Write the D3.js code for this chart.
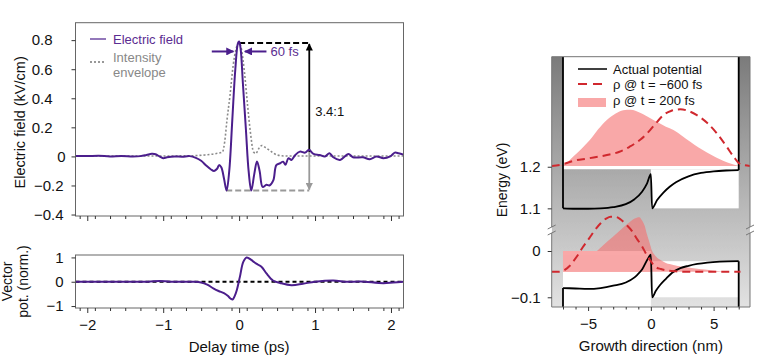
<!DOCTYPE html>
<html>
<head>
<meta charset="utf-8">
<script src="https://cdn.jsdelivr.net/npm/d3@7"></script>
<style>
html,body{margin:0;padding:0;background:#fff;}
svg{display:block;font-family:"Liberation Sans",Arial,sans-serif;}
</style>
</head>
<body>
<svg id="c" width="768" height="359"></svg>
<script>
// ---------------- DATA ----------------
// Electric field (kV/cm) vs delay time (ps)
const efTime = [-2.155,-2.0,-1.85,-1.7,-1.55,-1.4,-1.3,-1.22,-1.15,-1.1,-1.05,-1.0,-0.95,-0.85,-0.75,-0.65,-0.57,-0.5,-0.43,-0.37,-0.33,-0.29,-0.265,-0.235,-0.2,-0.165,-0.13,-0.09,-0.05,-0.015,0.0,0.02,0.05,0.09,0.125,0.16,0.2,0.235,0.27,0.31,0.36,0.40,0.45,0.49,0.54,0.58,0.61,0.65,0.69,0.74,0.80,0.87,0.92,0.98,1.06,1.13,1.19,1.24,1.33,1.44,1.50,1.63,1.72,1.81,1.90,1.99,2.05,2.10,2.165];
const efValue = [0.003,0.002,0.004,0.0,0.003,0.0,0.002,0.01,0.018,0.015,0.0,-0.012,-0.006,0.0,-0.002,0.002,-0.01,-0.03,-0.065,-0.09,-0.1,-0.085,-0.06,-0.075,-0.15,-0.235,-0.1,0.25,0.6,0.78,0.79,0.74,0.5,0.18,-0.1,-0.235,-0.12,-0.035,-0.1,-0.21,-0.195,-0.2,-0.165,-0.06,-0.047,-0.036,-0.058,-0.012,-0.024,0.01,0.033,0.026,0.045,0.017,0.010,0.0,0.022,-0.006,-0.024,0.017,-0.006,-0.006,-0.019,0.0,-0.012,0.0,0.026,0.022,0.012];
// Intensity envelope
const envTime = [-2.155,-1.5,-1.0,-0.6,-0.45,-0.3,-0.22,-0.19,-0.16,-0.12,-0.08,-0.04,0.0,0.03,0.07,0.11,0.15,0.19,0.22,0.26,0.30,0.35,0.42,0.5,0.6,1.0,1.5,2.165];
const envValue = [0.003,0.003,0.003,0.005,0.01,0.02,0.03,0.1,0.25,0.42,0.62,0.74,0.78,0.74,0.58,0.36,0.16,0.03,0.02,0.055,0.075,0.06,0.035,0.01,0.003,0.003,0.003,0.003];
// Vector potential (norm.)
const vpTime = [-2.155,-1.5,-1.2,-1.05,-0.9,-0.6,-0.5,-0.42,-0.34,-0.27,-0.2,-0.15,-0.11,-0.085,-0.06,-0.03,0.01,0.055,0.1,0.16,0.2,0.25,0.3,0.36,0.45,0.54,0.69,0.84,1.0,1.24,1.42,1.6,1.9,2.03,2.165];
const vpValue = [0,0,0,0.03,0,0,-0.03,-0.12,-0.27,-0.38,-0.47,-0.58,-0.7,-0.73,-0.6,-0.34,0.2,0.82,1.0,0.9,0.8,0.7,0.6,0.34,0.04,-0.05,-0.14,-0.08,0,0.05,0,0.01,-0.06,-0.03,0];
// Ticks, left
const timeTicks = [-2,-1,0,1,2];
const timeTickLabels = ["−2","−1","0","1","2"];
const efTicks = [-0.4,-0.2,0,0.2,0.4,0.6,0.8];
const efTickLabels = ["−0.4","−0.2","0","0.2","0.4","0.6","0.8"];
const vpTicks = [-1,0,1];
const vpTickLabels = ["−1","0","1"];
// Annotation values
const peakLevel = 0.78, troughLevel = -0.235, ratioTime = 0.924, ratioSplit = 0.03;
const fwhmLeft = [-0.36,-0.075], fwhmRight = [0.36,0.075], fwhmLevel = 0.722;

// Right panel: potential (eV) vs growth direction (nm)
const potUpX = [-7,-6,-5,-4,-3,-2,-1.3,-0.7,-0.3,0,0.1,0.5,1,1.5,2,3,4,5,6,7];
const potUpE = [1.1,1.099,1.099,1.1,1.103,1.11,1.122,1.14,1.16,1.182,1.1,1.12,1.138,1.152,1.163,1.177,1.185,1.189,1.191,1.192];
const potLoX = [-7,-6,-5,-4,-3,-2,-1.3,-1.1,-0.7,-0.2,0,0.1,0.4,0.75,1.2,1.7,2.35,3,3.7,4.5,5.5,7];
const potLoE = [-0.08,-0.081,-0.082,-0.08,-0.075,-0.068,-0.057,-0.052,-0.04,-0.015,-0.008,-0.1,-0.086,-0.073,-0.06,-0.047,-0.037,-0.032,-0.028,-0.025,-0.023,-0.022];
const wellEdges = [-7,0,7];
// rho @ t = -600 fs (dashed)
const rhoAUpX = [-7.9,-7.0,-6.2,-5.0,-3.5,-2.5,-1.7,-0.8,-0.06,0.5,1.0,1.6,2.34,3.0,3.67,4.5,5.27,6.0,6.6,7.14,7.9];
const rhoAUpE = [1.202,1.206,1.214,1.22,1.228,1.236,1.248,1.266,1.288,1.308,1.324,1.334,1.338,1.334,1.324,1.305,1.28,1.25,1.224,1.206,1.202];
const rhoALoX = [-7.9,-7.3,-6.86,-6.5,-6.2,-5.8,-5.4,-4.9,-4.46,-4.0,-3.53,-3.2,-2.86,-2.4,-1.93,-1.5,-1.13,-0.7,-0.33,0,0.34,0.8,1.27,2,3.1,5,7.14];
const rhoALoE = [-0.045,-0.045,-0.041,-0.033,-0.023,-0.008,0.0093,0.028,0.045,0.06,0.0706,0.074,0.074,0.068,0.056,0.043,0.027,0.01,-0.0086,-0.022,-0.034,-0.039,-0.042,-0.044,-0.045,-0.045,-0.045];
// rho @ t = 200 fs (filled)
const rhoBUpX = [-7.3,-6.6,-6.2,-5.5,-4.86,-4.2,-3.53,-2.8,-2.2,-1.6,-0.86,0,0.47,1.2,1.8,2.5,3.14,3.8,4.47,5.2,5.8,6.4,6.9,7.2];
const rhoBUpE = [1.202,1.212,1.224,1.244,1.264,1.29,1.312,1.328,1.336,1.337,1.33,1.316,1.308,1.296,1.288,1.274,1.26,1.246,1.234,1.222,1.214,1.207,1.203,1.202];
const rhoBLoX = [-7.0,-6.86,-6.2,-5.4,-4.7,-4.06,-3.4,-2.73,-2.2,-1.66,-1.3,-1.13,-0.9,-0.73,-0.5,-0.33,-0.1,0.07,0.35,0.74,1.2,1.8,2.5,3.4,4.3,5.27,6.0,6.8];
const rhoBLoE = [-0.045,-0.042,-0.034,-0.023,-0.01,0.0058,0.022,0.038,0.051,0.063,0.07,0.072,0.073,0.067,0.055,0.038,0.018,0.002,-0.01,-0.019,-0.026,-0.030,-0.034,-0.037,-0.040,-0.043,-0.0445,-0.045];
const rhoUpBase = 1.202, rhoLoBase = -0.045;
const nmTicks = [-5,0,5];
const nmTickLabels = ["−5","0","5"];
const nmMinor = [-7,-6,-4,-3,-2,-1,1,2,3,4,6,7];
const eUpTicks = [1.1,1.2];
const eUpTickLabels = ["1.1","1.2"];
const eLoTicks = [-0.1,0];
const eLoTickLabels = ["−0.1","0"];

// ---------------- LAYOUT ----------------
const svg = d3.select("#c");
const FONT = "\"Liberation Sans\",Arial,sans-serif";
const purple = "#4b1e8c", purpleText = "#5b2d91";
const zip = (a,b) => a.map((v,i)=>[v,b[i]]);

const LX = [75.5, 403.5];
const TOP = [216, 22.7];   // top panel y range
const BOT = [308, 255];    // bottom panel y range
const xT = d3.scaleLinear().domain([-2.155, 2.165]).range(LX);
const yE = d3.scaleLinear().domain([-0.41, 0.92]).range(TOP);
const yA = d3.scaleLinear().domain([-1.08, 1.1]).range(BOT);

const RX = [551.7, 750];
const RY = {top:56.7, brk:230, bot:307};
const xN = d3.scaleLinear().domain([-7.9, 7.9]).range(RX);
const yU = d3.scaleLinear().domain([1.048, 1.4644]).range([RY.brk, RY.top]);
const yL = d3.scaleLinear().domain([-0.121, 0.0454]).range([RY.bot, RY.brk]);

const defs = svg.append("defs");
function marker(id,color){
  defs.append("marker").attr("id",id).attr("viewBox","0 0 10 10").attr("refX",9).attr("refY",5)
    .attr("markerWidth",4).attr("markerHeight",4).attr("orient","auto-start-reverse")
    .append("path").attr("d","M0,0 L10,5 L0,10 z").attr("fill",color);
}
marker("mBlack","#000"); marker("mGray","#999"); marker("mPurple",purple);

// ---------- LEFT: top panel ----------
const gT = svg.append("g");
defs.append("clipPath").attr("id","clipT").append("rect")
  .attr("x",LX[0]).attr("y",TOP[1]).attr("width",LX[1]-LX[0]).attr("height",TOP[0]-TOP[1]);

gT.append("line").attr("x1",xT(0)).attr("x2",xT(ratioTime)).attr("y1",yE(peakLevel)).attr("y2",yE(peakLevel))
  .attr("stroke","#000").attr("stroke-width",2).attr("stroke-dasharray","6,3");
gT.append("line").attr("x1",xT(-0.17)).attr("x2",xT(ratioTime)).attr("y1",yE(troughLevel)).attr("y2",yE(troughLevel))
  .attr("stroke","#999").attr("stroke-width",2).attr("stroke-dasharray","6,3");
gT.append("line").attr("x1",xT(ratioTime)).attr("x2",xT(ratioTime)).attr("y1",yE(ratioSplit)).attr("y2",yE(peakLevel)+1)
  .attr("stroke","#000").attr("stroke-width",1.8).attr("marker-end","url(#mBlack)");
gT.append("line").attr("x1",xT(ratioTime)).attr("x2",xT(ratioTime)).attr("y1",yE(ratioSplit)).attr("y2",yE(troughLevel)-1)
  .attr("stroke","#999").attr("stroke-width",1.8).attr("marker-end","url(#mGray)");
gT.append("text").attr("x",xT(ratioTime)+6).attr("y",yE(0.31)).attr("dy","0.35em")
  .attr("font-size",13).attr("fill","#111").text("3.4:1");

const lineEnv = d3.line().x(d=>xT(d[0])).y(d=>yE(d[1])).curve(d3.curveMonotoneX);
gT.append("path").attr("clip-path","url(#clipT)").attr("d",lineEnv(zip(envTime,envValue)))
  .attr("fill","none").attr("stroke","#8a8a8a").attr("stroke-width",1.6).attr("stroke-dasharray","2,2");
const lineEF = d3.line().x(d=>xT(d[0])).y(d=>yE(d[1])).curve(d3.curveCatmullRom.alpha(0.5));
gT.append("path").attr("clip-path","url(#clipT)").attr("d",lineEF(zip(efTime,efValue)))
  .attr("fill","none").attr("stroke",purple).attr("stroke-width",2).attr("stroke-linejoin","round");

gT.append("line").attr("x1",xT(fwhmLeft[0])).attr("x2",xT(fwhmLeft[1])).attr("y1",yE(fwhmLevel)).attr("y2",yE(fwhmLevel))
  .attr("stroke",purple).attr("stroke-width",2).attr("marker-end","url(#mPurple)");
gT.append("line").attr("x1",xT(fwhmRight[0])).attr("x2",xT(fwhmRight[1])).attr("y1",yE(fwhmLevel)).attr("y2",yE(fwhmLevel))
  .attr("stroke",purple).attr("stroke-width",2).attr("marker-end","url(#mPurple)");
gT.append("text").attr("x",xT(fwhmRight[0])+4).attr("y",yE(fwhmLevel)).attr("dy","0.35em")
  .attr("font-size",13).attr("fill",purpleText).text("60 fs");

// legend
gT.append("line").attr("x1",90).attr("x2",106).attr("y1",39).attr("y2",39).attr("stroke",purple).attr("stroke-width",1.2);
gT.append("text").attr("x",113).attr("y",39).attr("dy","0.35em").attr("font-size",13).attr("fill",purpleText).text("Electric field");
gT.append("line").attr("x1",90).attr("x2",106).attr("y1",62).attr("y2",62).attr("stroke","#777").attr("stroke-width",1.5).attr("stroke-dasharray","2,2");
gT.append("text").attr("x",113).attr("y",57).attr("dy","0.35em").attr("font-size",13).attr("fill","#888").text("Intensity");
gT.append("text").attr("x",113).attr("y",72).attr("dy","0.35em").attr("font-size",13).attr("fill","#888").text("envelope");

gT.append("rect").attr("x",LX[0]).attr("y",TOP[1]).attr("width",LX[1]-LX[0]).attr("height",TOP[0]-TOP[1])
  .attr("fill","none").attr("stroke","#666").attr("stroke-width",1);

function styleAxis(g){
  g.select(".domain").remove();
  g.selectAll(".tick line").attr("stroke","#333");
  g.selectAll(".tick text").attr("font-family",FONT).attr("fill","#111");
}
const minorTimes = d3.range(-21,22,2).map(v=>v/10).filter(v=>v>=-2.15 && v<=2.16 && Math.abs(v-Math.round(v))>1e-6);
function timeAxis(y, labels){
  const gMaj = svg.append("g").attr("transform",`translate(0,${y})`)
    .call(d3.axisBottom(xT).tickValues(timeTicks).tickSize(5).tickPadding(6)
      .tickFormat((d,i)=>labels?timeTickLabels[i]:""));
  styleAxis(gMaj);
  gMaj.selectAll(".tick text").attr("font-size",15);
  const gMin = svg.append("g").attr("transform",`translate(0,${y})`)
    .call(d3.axisBottom(xT).tickValues(minorTimes).tickSize(3).tickFormat(""));
  styleAxis(gMin);
}
timeAxis(TOP[0], false);
const gyE = svg.append("g").attr("transform",`translate(${LX[0]},0)`)
  .call(d3.axisLeft(yE).tickValues(efTicks).tickSize(4).tickPadding(6).tickFormat((d,i)=>efTickLabels[i]));
styleAxis(gyE); gyE.selectAll(".tick text").attr("font-size",15)
  .attr("dx", d => d > 0 ? -13 : (d < 0 ? -2 : 0));
svg.append("text").attr("transform",`translate(20,${(TOP[0]+TOP[1])/2+3}) rotate(-90)`).attr("text-anchor","middle")
  .attr("dy","0.35em").attr("font-size",14.5).attr("fill","#111").text("Electric field (kV/cm)");

// ---------- LEFT: bottom panel ----------
const gB = svg.append("g");
gB.append("line").attr("x1",LX[0]).attr("x2",LX[1]).attr("y1",yA(0)).attr("y2",yA(0))
  .attr("stroke","#000").attr("stroke-width",1.8).attr("stroke-dasharray","4,3");
const lineVP = d3.line().x(d=>xT(d[0])).y(d=>yA(d[1])).curve(d3.curveCatmullRom.alpha(0.5));
gB.append("path").attr("d",lineVP(zip(vpTime,vpValue))).attr("fill","none").attr("stroke",purple).attr("stroke-width",2);
gB.append("rect").attr("x",LX[0]).attr("y",BOT[1]).attr("width",LX[1]-LX[0]).attr("height",BOT[0]-BOT[1])
  .attr("fill","none").attr("stroke","#666").attr("stroke-width",1);
timeAxis(BOT[0], true);
const gyA = svg.append("g").attr("transform",`translate(${LX[0]},0)`)
  .call(d3.axisLeft(yA).tickValues(vpTicks).tickSize(4).tickPadding(8).tickFormat((d,i)=>vpTickLabels[i]));
styleAxis(gyA); gyA.selectAll(".tick text").attr("font-size",15);
const ylb = svg.append("text").attr("transform",`translate(13,${(BOT[0]+BOT[1])/2}) rotate(-90)`)
  .attr("text-anchor","middle").attr("font-size",14).attr("fill","#111");
ylb.append("tspan").attr("x",0).attr("dy","-0.1em").text("Vector");
ylb.append("tspan").attr("x",0).attr("dy","1.15em").text("pot. (norm.)");
svg.append("text").attr("x",xT(0)).attr("y",352).attr("text-anchor","middle").attr("font-size",15)
  .attr("fill","#111").text("Delay time (ps)");

// ---------- RIGHT panel ----------
const gR = svg.append("g");
const grad = defs.append("linearGradient").attr("id","bgGrad").attr("x1",0).attr("x2",0).attr("y1",0).attr("y2",1);
grad.append("stop").attr("offset","0%").attr("stop-color","#7b7b7b");
grad.append("stop").attr("offset","100%").attr("stop-color","#e2e2e2");
defs.append("clipPath").attr("id","clipR").append("rect")
  .attr("x",RX[0]).attr("y",RY.top).attr("width",RX[1]-RX[0]).attr("height",RY.bot-RY.top);
const gRc = gR.append("g").attr("clip-path","url(#clipR)");
gRc.append("rect").attr("x",RX[0]).attr("y",RY.top).attr("width",RX[1]-RX[0]).attr("height",RY.bot-RY.top).attr("fill","url(#bgGrad)");

const [wl, wm, wr] = wellEdges;
const eTop = yU.domain()[1], eBot = yL.domain()[0];
function rectE(x0,x1,ys,e0,e1,fill){
  return gRc.append("rect").attr("x",xN(x0)).attr("width",xN(x1)-xN(x0))
    .attr("y",ys(e1)).attr("height",ys(e0)-ys(e1)).attr("fill",fill);
}
rectE(wl, wr, yU, 1.194, eTop, "#fff");
rectE(wm, wr, yU, 1.1, 1.194, "#fff");
rectE(wl, wm, yL, eBot, 0, "#fff");
rectE(wm, wr, yL, -0.1, -0.022, "#fff");

const pink = gRc.append("g").attr("opacity",0.6);
const areaU = d3.area().x(d=>xN(d[0])).y0(yU(rhoUpBase)).y1(d=>yU(d[1])).curve(d3.curveMonotoneX);
const areaL = d3.area().x(d=>xN(d[0])).y0(yL(rhoLoBase)).y1(d=>yL(d[1])).curve(d3.curveMonotoneX);
pink.append("path").attr("d",areaU(zip(rhoBUpX,rhoBUpE))).attr("fill","#f56e6e");
pink.append("path").attr("d",areaL(zip(rhoBLoX,rhoBLoE))).attr("fill","#f56e6e");
pink.append("rect").attr("x",xN(wl)).attr("width",xN(wm)-xN(wl)).attr("y",yL(0)).attr("height",yL(rhoLoBase)-yL(0)).attr("fill","#f56e6e");

const potU = d3.line().x(d=>xN(d[0])).y(d=>yU(d[1])).curve(d3.curveMonotoneX);
const potL = d3.line().x(d=>xN(d[0])).y(d=>yL(d[1])).curve(d3.curveMonotoneX);
const straightU = d3.line().x(d=>xN(d[0])).y(d=>yU(d[1]));
const straightL = d3.line().x(d=>xN(d[0])).y(d=>yL(d[1]));
const blk = p => gRc.append("path").attr("d",p).attr("fill","none").attr("stroke","#000").attr("stroke-width",1.8);
blk(potU(zip(potUpX,potUpE)));
blk(straightU([[wl,eTop],[wl,potUpE[0]]]));
blk(straightU([[wr,eTop],[wr,potUpE[potUpE.length-1]]]));
blk(potL(zip(potLoX,potLoE)));
blk(straightL([[wl,eBot],[wl,potLoE[0]]]));
blk(straightL([[wr,eBot],[wr,potLoE[potLoE.length-1]]]));

const dashU = d3.line().x(d=>xN(d[0])).y(d=>yU(d[1])).curve(d3.curveMonotoneX);
const dashL = d3.line().x(d=>xN(d[0])).y(d=>yL(d[1])).curve(d3.curveMonotoneX);
gRc.append("path").attr("d",dashU(zip(rhoAUpX,rhoAUpE))).attr("fill","none").attr("stroke","#d0282e").attr("stroke-width",2).attr("stroke-dasharray","8,5");
gRc.append("path").attr("d",dashL(zip(rhoALoX,rhoALoE))).attr("fill","none").attr("stroke","#d0282e").attr("stroke-width",2).attr("stroke-dasharray","8,5");

const fr = gR.append("g").attr("stroke","#777").attr("stroke-width",1).attr("fill","none");
fr.append("line").attr("x1",RX[0]).attr("x2",RX[1]).attr("y1",RY.top).attr("y2",RY.top);
fr.append("line").attr("x1",RX[0]).attr("x2",RX[1]).attr("y1",RY.bot).attr("y2",RY.bot);
[RX[0],RX[1]].forEach(x=>{
  fr.append("line").attr("x1",x).attr("x2",x).attr("y1",RY.top).attr("y2",RY.brk-3);
  fr.append("line").attr("x1",x).attr("x2",x).attr("y1",RY.brk+3).attr("y2",RY.bot);
  fr.append("line").attr("x1",x-4).attr("x2",x+4).attr("y1",RY.brk-1).attr("y2",RY.brk-5);
  fr.append("line").attr("x1",x-4).attr("x2",x+4).attr("y1",RY.brk+5).attr("y2",RY.brk+1);
});

const gxN = svg.append("g").attr("transform",`translate(0,${RY.bot})`)
  .call(d3.axisBottom(xN).tickValues(nmTicks).tickSize(4).tickPadding(7).tickFormat((d,i)=>nmTickLabels[i]));
styleAxis(gxN); gxN.selectAll(".tick text").attr("font-size",15);
const gxNm = svg.append("g").attr("transform",`translate(0,${RY.bot})`)
  .call(d3.axisBottom(xN).tickValues(nmMinor).tickSize(2.5).tickFormat(""));
styleAxis(gxNm);
const gyU = svg.append("g").attr("transform",`translate(${RX[0]},0)`)
  .call(d3.axisLeft(yU).tickValues(eUpTicks).tickSize(4).tickPadding(7).tickFormat((d,i)=>eUpTickLabels[i]));
styleAxis(gyU); gyU.selectAll(".tick text").attr("font-size",15);
const gyL = svg.append("g").attr("transform",`translate(${RX[0]},0)`)
  .call(d3.axisLeft(yL).tickValues(eLoTicks).tickSize(4).tickPadding(7).tickFormat((d,i)=>eLoTickLabels[i]));
styleAxis(gyL); gyL.selectAll(".tick text").attr("font-size",15);
svg.append("text").attr("transform",`translate(502,180) rotate(-90)`).attr("text-anchor","middle")
  .attr("dy","0.35em").attr("font-size",14).attr("fill","#111").text("Energy (eV)");
svg.append("text").attr("x",xN(0)).attr("y",351).attr("text-anchor","middle").attr("font-size",15)
  .attr("fill","#111").text("Growth direction (nm)");

const lg = svg.append("g");
lg.append("line").attr("x1",578).attr("x2",607).attr("y1",69).attr("y2",69).attr("stroke","#000").attr("stroke-width",1.5);
lg.append("text").attr("x",613).attr("y",69).attr("dy","0.35em").attr("font-size",13).attr("fill","#111").text("Actual potential");
lg.append("line").attr("x1",578).attr("x2",607).attr("y1",84).attr("y2",84).attr("stroke","#d0282e").attr("stroke-width",1.8).attr("stroke-dasharray","9,6");
lg.append("text").attr("x",613).attr("y",84).attr("dy","0.35em").attr("font-size",13).attr("fill","#111").text("ρ @ t = −600 fs");
lg.append("rect").attr("x",578).attr("y",98).attr("width",28).attr("height",9).attr("fill","#f56e6e").attr("opacity",0.6);
lg.append("text").attr("x",613).attr("y",100).attr("dy","0.35em").attr("font-size",13).attr("fill","#111").text("ρ @ t = 200 fs");
</script>
</body>
</html>
